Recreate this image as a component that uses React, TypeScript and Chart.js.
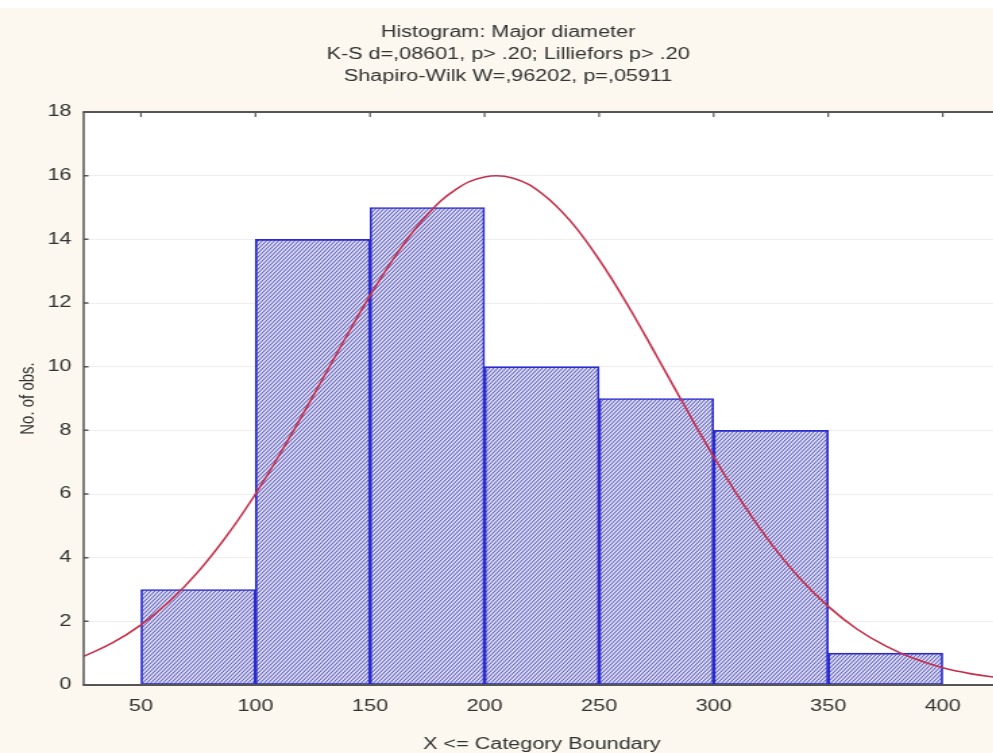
import React, { useEffect, useRef } from 'react';
import { Chart, registerables } from 'chart.js';

Chart.register(...registerables);

const titleLines = [
  'Histogram: Major diameter',
  'K-S d=,08601, p> .20; Lilliefors p> .20',
  'Shapiro-Wilk W=,96202, p=,05911',
];
const xAxisTitle = 'X <= Category Boundary';
const yAxisTitle = 'No. of obs.';

// histogram bins (centre of each 50-wide class) and counts
const binCenters = [75, 125, 175, 225, 275, 325, 375];
const binCounts = [3, 14, 15, 10, 9, 8, 1];

// expected normal curve
const curveX = [25, 37.5, 50, 62.5, 75, 87.5, 100, 112.5, 125, 137.5, 150, 162.5, 175, 187.5, 200, 212.5, 225, 237.5, 250, 262.5, 275, 287.5, 300, 312.5, 325, 337.5, 350, 362.5, 375, 387.5, 400, 412.5, 425];
const curveY = [0.9, 1.32, 1.89, 2.63, 3.56, 4.69, 6.0, 7.48, 9.06, 10.67, 12.23, 13.63, 14.77, 15.57, 15.96, 15.92, 15.44, 14.57, 13.36, 11.93, 10.35, 8.74, 7.17, 5.73, 4.45, 3.36, 2.47, 1.76, 1.23, 0.83, 0.54, 0.35, 0.22];

const xTicks = [50, 100, 150, 200, 250, 300, 350, 400];
const yTicks = [0, 2, 4, 6, 8, 10, 12, 14, 16, 18];

const FONT = "'Liberation Sans', Arial, sans-serif";
const INNER_W = 741;
const OUTER_W = 1000;
const H = 753;

export default function App() {
  const ref = useRef<HTMLCanvasElement | null>(null);

  useEffect(() => {
    const canvas = ref.current;
    if (!canvas) return;

    // hatch tile: "/" diagonal, 3x4 so it looks ~45deg after the horizontal stretch
    const pc = document.createElement('canvas');
    pc.width = 3;
    pc.height = 4;
    const p = pc.getContext('2d')!;
    p.fillStyle = '#e0e0f6';
    p.fillRect(0, 0, 3, 4);
    p.strokeStyle = '#4a4ab4';
    p.lineWidth = 0.95;
    p.beginPath();
    for (let k = -1; k <= 1; k++) {
      p.moveTo(-1, 4 + 4 / 3 + 4 * k);
      p.lineTo(4, 4 - 16 / 3 + 4 * k);
    }
    p.stroke();
    const ctx0 = canvas.getContext('2d')!;
    const hatch = ctx0.createPattern(pc, 'repeat')!;

    const framePlugin = {
      id: 'frame',
      beforeDraw(chart: any) {
        const { ctx, chartArea: a, width, height } = chart;
        ctx.save();
        ctx.fillStyle = '#ffffff';
        ctx.fillRect(0, 0, width, height);
        ctx.fillStyle = '#fdf8ef';
        ctx.fillRect(0, 8, width, height - 8);
        ctx.fillStyle = '#ffffff';
        ctx.fillRect(a.left, a.top, a.right - a.left, a.bottom - a.top);
        ctx.restore();
      },
      afterDatasetsDraw(chart: any) {
        const { ctx, chartArea: a, scales } = chart;
        ctx.save();
        ctx.strokeStyle = '#555555';
        // horizontal edges
        ctx.lineWidth = 2;
        ctx.beginPath();
        ctx.moveTo(a.left - 0.7, a.top);
        ctx.lineTo(a.right, a.top);
        ctx.moveTo(a.left - 0.7, a.bottom);
        ctx.lineTo(a.right, a.bottom);
        ctx.stroke();
        // vertical edges (stretched on screen)
        ctx.lineWidth = 1.5;
        ctx.beginPath();
        ctx.moveTo(a.left, a.top);
        ctx.lineTo(a.left, a.bottom);
        ctx.moveTo(a.right, a.top);
        ctx.lineTo(a.right, a.bottom);
        ctx.stroke();
        // inside tick marks
        ctx.lineWidth = 1.5;
        ctx.beginPath();
        for (const v of yTicks) {
          const y = scales.y.getPixelForValue(v);
          ctx.moveTo(a.left, y);
          ctx.lineTo(a.left + 3.5, y);
        }
        ctx.stroke();
        ctx.lineWidth = 1.2;
        ctx.beginPath();
        for (const v of xTicks) {
          const x = scales.x.getPixelForValue(v);
          ctx.moveTo(x, a.top);
          ctx.lineTo(x, a.top + 5);
        }
        ctx.stroke();
        ctx.restore();
      },
    };

    const chart = new Chart(canvas, {
      type: 'bar',
      data: {
        datasets: [
          {
            type: 'line',
            data: curveX.map((x, i) => ({ x, y: curveY[i] })),
            borderColor: '#c4304c',
            borderWidth: 1.6,
            pointRadius: 0,
            tension: 0.4,
            fill: false,
            order: 0,
          } as any,
          {
            type: 'bar',
            data: binCenters.map((x, i) => ({ x, y: binCounts[i] })),
            backgroundColor: hatch,
            borderColor: '#2a2ad0',
            borderWidth: 1.7,
            borderSkipped: false,
            barPercentage: 1,
            categoryPercentage: 1,
            order: 1,
          } as any,
        ],
      },
      options: {
        responsive: false,
        animation: false,
        layout: { padding: { left: 12, right: 0, top: 0, bottom: 0 } },
        plugins: {
          legend: { display: false },
          tooltip: { enabled: false },
          title: {
            display: true,
            text: titleLines,
            color: '#333333',
            font: { family: FONT, size: 16, weight: 'normal', lineHeight: 1.375 },
            padding: { top: 22, bottom: 24 },
          },
        },
        scales: {
          x: {
            type: 'linear',
            min: 25,
            max: 425,
            offset: false,
            afterBuildTicks: (s: any) => {
              s.ticks = xTicks.map((v) => ({ value: v }));
            },
            afterFit: (s: any) => {
              s.height = 68;
            },
            grid: { display: false, drawTicks: false },
            border: { display: false },
            ticks: {
              color: '#333333',
              font: { family: FONT, size: 16 },
              padding: 12,
              maxRotation: 0,
            },
            title: {
              display: true,
              text: xAxisTitle,
              color: '#333333',
              font: { family: FONT, size: 16, lineHeight: 1 },
              padding: { top: 0, bottom: 0 },
            },
          },
          y: {
            type: 'linear',
            min: 0,
            max: 18,
            afterBuildTicks: (s: any) => {
              s.ticks = yTicks.map((v) => ({ value: v }));
            },
            afterFit: (s: any) => {
              s.width = 50;
            },
            grid: { color: '#eeeeee', lineWidth: 1, drawTicks: false },
            border: { display: false },
            ticks: {
              color: '#333333',
              font: { family: FONT, size: 16 },
              padding: 9,
            },
            title: {
              display: true,
              text: yAxisTitle,
              color: '#333333',
              font: { family: FONT, size: 15, lineHeight: 1.2 },
              padding: { top: 0, bottom: 0 },
            },
          },
        },
      },
      plugins: [framePlugin],
    } as any);

    return () => chart.destroy();
  }, []);

  return (
    <div style={{ position: 'fixed', left: 0, top: 0, width: 993, height: H, overflow: 'hidden' }}>
      <canvas
        ref={ref}
        width={INNER_W}
        height={H}
        style={{ display: 'block', width: OUTER_W + 'px', height: H + 'px' }}
      />
    </div>
  );
}
